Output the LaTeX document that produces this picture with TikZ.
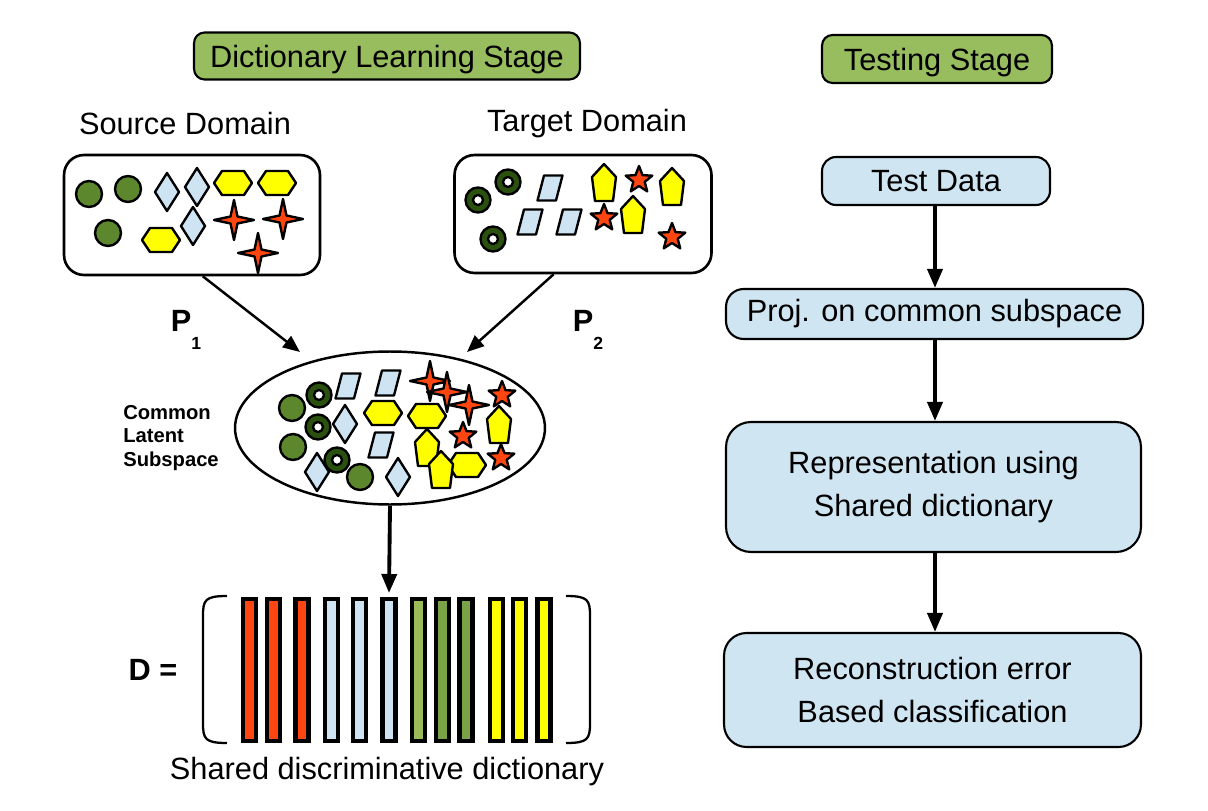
\documentclass[tikz,border=0pt]{standalone}
\usepackage{fontspec}
\setmainfont{Liberation Sans}
\usetikzlibrary{arrows.meta,shapes.geometric,positioning}
\definecolor{stagegreen}{RGB}{151,189,94}
\definecolor{boxblue}{RGB}{208,229,242}
\definecolor{dotgreen}{RGB}{93,135,45}
\definecolor{ringgreen}{RGB}{42,82,14}
\definecolor{starred}{RGB}{255,69,16}
\definecolor{hexyellow}{RGB}{255,255,0}
\definecolor{paleblue}{RGB}{207,228,242}
\definecolor{barlight}{RGB}{155,187,89}
\definecolor{bardark}{RGB}{122,163,72}
\tikzset{
  glyph/.style={draw=black, line width=1.35pt, line join=round},
  stage/.style={draw, line width=1.2pt, rounded corners=6pt, fill=stagegreen, inner sep=0pt},
  flowbox/.style={draw, line width=1.2pt, fill=boxblue, align=center, inner sep=0pt},
  domainbox/.style={draw, line width=1.5pt, rounded corners=0.4cm, fill=white, inner sep=0pt},
  flow/.style={-{Triangle[length=0.38cm,width=0.3cm]}, line width=2.2pt},
  bar/.style={draw=black, line width=2.3pt},
  dot/.pic={\draw[glyph, fill=dotgreen] (0,0) circle (13);},
  ring/.pic={\draw[glyph, fill=ringgreen] (0,0) circle (12.5);
             \draw[glyph, fill=white] (0,0) circle (5);},
  rhomb/.pic={\draw[glyph, fill=paleblue] (0,-19) -- (12,0) -- (0,19) -- (-12,0) -- cycle;},
  para/.pic={\draw[glyph, fill=paleblue] (-6,-12.5) -- (12.5,-12.5) -- (6,12.5) -- (-12.5,12.5) -- cycle;},
  hexa/.pic={\draw[glyph, fill=hexyellow] (-19,0) -- (-11,-12) -- (11,-12) -- (19,0) -- (11,12) -- (-11,12) -- cycle;},
  penta/.pic={\draw[glyph, fill=hexyellow] (0,-19) -- (12,-6) -- (9,18) -- (-9,18) -- (-12,-6) -- cycle;},
  fourstar/.pic={\draw[glyph, fill=starred] (0,-20) -- (3.5,-3.5) -- (20,0) -- (3.5,3.5) -- (0,20) -- (-3.5,3.5) -- (-20,0) -- (-3.5,-3.5) -- cycle;},
  fivestar/.pic={\draw[glyph, fill=starred] (-90:14) -- (-54:6) -- (-18:14) -- (18:6) -- (54:14) -- (90:6) -- (126:14) -- (162:6) -- (198:14) -- (234:6) -- cycle;},
}
\begin{document}
\begin{tikzpicture}[x=0.02cm, y=-0.02cm, font=\fontsize{17.5}{24}\selectfont]
    \useasboundingbox (0,0) rectangle (1208,811);

    % 阶段标题
    \node[stage, minimum width=7.72cm, minimum height=0.94cm, text depth=0pt] (learnstage) at (387,56) {Dictionary Learning Stage};
    \node[stage, minimum width=4.6cm, minimum height=0.96cm, text depth=0pt] (teststage) at (937,59) {Testing Stage};

    % 源域和目标域
    \node (srclabel) at (185,124) {Source Domain};
    \node (tgtlabel) at (587,124) {Target Domain};
    \node[domainbox, minimum width=5.12cm, minimum height=2.4cm] (src) at (192,215) {};
    \node[domainbox, minimum width=5.14cm, minimum height=2.36cm] (tgt) at (583,214) {};

    \pic at (89,194) {dot};
    \pic at (128,189) {dot};
    \pic at (108,233) {dot};
    \pic at (167,192) {rhomb};
    \pic at (197,187) {rhomb};
    \pic at (193,226) {rhomb};
    \pic at (233,183) {hexa};
    \pic at (277,183) {hexa};
    \pic at (161,240) {hexa};
    \pic at (234,220) {fourstar};
    \pic at (283,219) {fourstar};
    \pic at (258,253) {fourstar};

    \pic at (478,200) {ring};
    \pic at (508,182) {ring};
    \pic at (493,239) {ring};
    \pic at (550,188) {para};
    \pic at (530,222) {para};
    \pic at (569,222) {para};
    \pic at (604,183) {penta};
    \pic at (672,187) {penta};
    \pic at (633,215) {penta};
    \pic at (639,180) {fivestar};
    \pic at (604,218) {fivestar};
    \pic at (672,237) {fivestar};

    % 公共潜在子空间
    \node[draw, ellipse, line width=1.4pt, minimum width=6.2cm, minimum height=3.06cm] (latent) at (390,428) {};
    \node[font=\bfseries\fontsize{11.5}{13.6}\selectfont, align=left] (latentlabel) at (171,438) {Common\\Latent\\Subspace};

    \pic at (292,408) {dot};
    \pic at (293,447) {dot};
    \pic at (360,477) {dot};
    \pic at (319,395) {ring};
    \pic at (318,427) {ring};
    \pic at (337,460) {ring};
    \pic at (348,386) {para};
    \pic at (388,383) {para};
    \pic at (381,445) {para};
    \pic at (345,424) {rhomb};
    \pic at (317,472) {rhomb};
    \pic at (398,477) {rhomb};
    \pic at (383,413) {hexa};
    \pic at (427,416) {hexa};
    \pic at (467,465) {hexa};
    \pic at (427,448) {penta};
    \pic at (441,470) {penta};
    \pic at (499,425) {penta};
    \pic at (430,381) {fourstar};
    \pic at (447,392) {fourstar};
    \pic at (469,405) {fourstar};
    \pic at (502,395) {fivestar};
    \pic at (463,436) {fivestar};
    \pic at (501,458) {fivestar};

    % 投影
    \coordinate (p1tip) at (300,352);
    \coordinate (p2tip) at (467,352);
    \coordinate (dicttop) at (389,593);
    \draw[flow, line width=1.4pt, -{Triangle[length=0.34cm,width=0.28cm]}] (src.-80) -- (p1tip);
    \draw[flow, line width=1.4pt, -{Triangle[length=0.34cm,width=0.28cm]}] (tgt.-116) -- (p2tip);
    \node (p1) at (186,330) {\bfseries P\raisebox{-1.1ex}{\fontsize{10}{10}\selectfont 1}};
    \node (p2) at (588,330) {\bfseries P\raisebox{-1.1ex}{\fontsize{10}{10}\selectfont 2}};
    \draw[flow] (latent.south) -- (dicttop);

    % 共享字典
    \node (dlabel) at (153,670) {\bfseries D =};
    \draw[line width=1.3pt] (227,596) .. controls (205,596) and (203,600) .. (203,616) -- (203,723) .. controls (203,739) and (205,743) .. (227,743);
    \draw[line width=1.3pt] (566,596) .. controls (588,596) and (590,600) .. (590,616) -- (590,723) .. controls (590,739) and (588,743) .. (566,743);
    \foreach \x/\c in {249.5/starred, 273.5/starred, 302/starred, 331.5/paleblue, 359.5/paleblue, 389/paleblue,
                       418.5/barlight, 442.5/bardark, 466/bardark, 496.5/hexyellow, 519.5/hexyellow, 544/hexyellow}
        \draw[bar, fill=\c] (\x-6.5,599) rectangle (\x+6.5,741);
    \node (dictlabel) at (387,772) {Shared discriminative dictionary};

    % 测试阶段
    \node[flowbox, rounded corners=8pt, minimum width=4.56cm, minimum height=0.96cm, text depth=0pt] (testdata) at (936,181) {Test Data};
    \node[flowbox, rounded corners=10pt, minimum width=8.34cm, minimum height=1cm] (proj) at (934.5,314) {Proj. on common subspace};
    \node[flowbox, rounded corners=0.5cm, minimum width=8.3cm, minimum height=2.6cm] (repr) at (933.5,487) {Representation using\\Shared dictionary};
    \node[flowbox, rounded corners=0.45cm, minimum width=8.34cm, minimum height=2.28cm] (recon) at (932.5,690) {Reconstruction error\\Based classification};
    \draw[flow] (testdata.south -| 935,0) -- (proj.north -| 935,0);
    \draw[flow] (proj.south -| 935,0) -- (repr.north -| 935,0);
    \draw[flow] (repr.south -| 935,0) -- (recon.north -| 935,0);
\end{tikzpicture}
\end{document}
